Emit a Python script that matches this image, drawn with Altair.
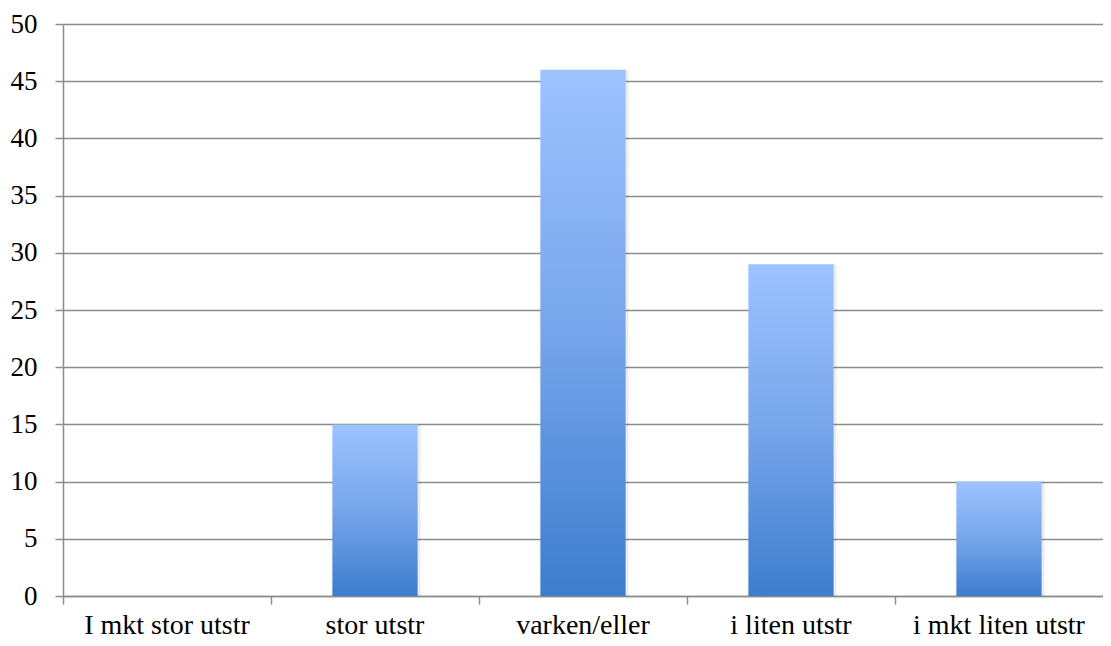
import altair as alt
import pandas as pd

categories = ["I mkt stor utstr", "stor utstr", "varken/eller", "i liten utstr", "i mkt liten utstr"]
values = [0, 15, 46, 29, 10]
y_ticks = [0, 5, 10, 15, 20, 25, 30, 35, 40, 45, 50]

df = pd.DataFrame({"cat": categories, "val": values})

grad = alt.Gradient(
    gradient="linear",
    stops=[
        alt.GradientStop(color="#9dc3ff", offset=0),
        alt.GradientStop(color="#76a5eb", offset=0.5),
        alt.GradientStop(color="#3d7dcd", offset=1),
    ],
    x1=0, x2=0, y1=0, y2=1,
)

GRAY = "#8c8c8c"
FONT = "Liberation Serif"

base = alt.Chart(df).encode(
    x=alt.X(
        "cat:N",
        sort=categories,
        scale=alt.Scale(paddingInner=0, paddingOuter=0),
        axis=alt.Axis(
            title=None, labelAngle=0, bandPosition=0, ticks=True, tickSize=8,
            tickColor=GRAY, tickWidth=1.5, domainColor=GRAY, domainWidth=1.5,
            labelFont=FONT, labelFontSize=28, labelColor="black", labelPadding=7,
            grid=False,
        ),
    ),
    y=alt.Y(
        "val:Q",
        scale=alt.Scale(domain=[0, 50], nice=False),
        axis=alt.Axis(
            title=None, values=y_ticks, tickSize=8, tickColor=GRAY, tickWidth=1.5,
            domainColor=GRAY, domainWidth=1.5, gridColor=GRAY, gridWidth=1.5,
            labelFont=FONT, labelFontSize=27, labelColor="black", labelPadding=18,
        ),
    ),
)

shadow = base.mark_bar(
    fill="#000000", fillOpacity=0.07, width=alt.RelativeBandSize(0.41), xOffset=3
)
bars = base.mark_bar(fill=grad, width=alt.RelativeBandSize(0.41))

chart = alt.layer(shadow, bars).properties(
    width=1040,
    height=572,
    autosize=alt.AutoSizeParams(type="none"),
    padding={"left": 55, "top": 16, "right": 0, "bottom": 42},
).configure_view(stroke=None)

chart.save("out.html", embed_options={"renderer": "svg", "actions": False})
